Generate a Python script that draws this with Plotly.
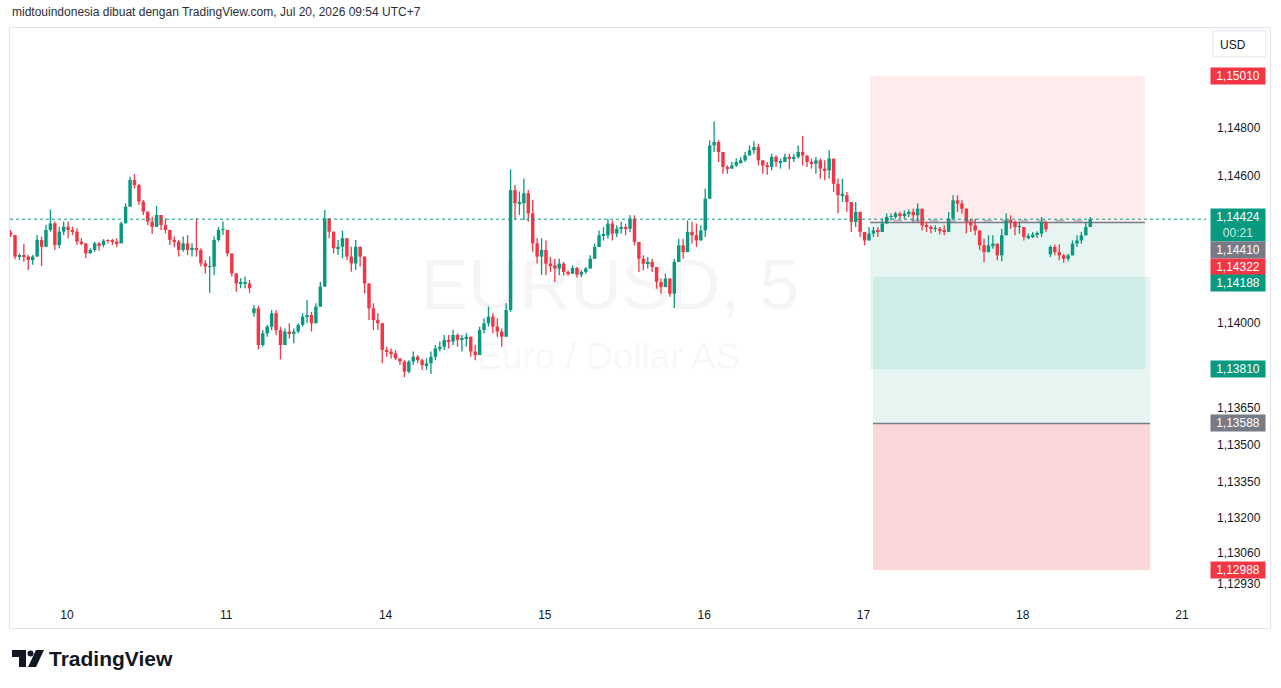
import plotly.graph_objects as go

# ---------------- data ----------------
day_labels = ["10", "11", "14", "15", "16", "17", "18", "21"]
day_ticks_h = [0, 24, 48, 72, 96, 120, 144, 168]   # trading hours since Jul 10 00:00 (UTC+7), weekends removed

bar_step_h = 2 / 3          # each drawn candle = 40 min
first_bar_h = -8.5
first_open = 1.14370
session_opens = {55: 1.14040, 235: 1.14280}   # Monday opens (weekend gaps)

high = [
    1.14380, 1.14339, 1.14284, 1.14322, 1.14277, 1.14277, 1.14359, 1.14353, 1.14400, 1.14464,
    1.14414, 1.14393, 1.14414, 1.14414, 1.14393, 1.14387, 1.14346, 1.14311, 1.14305, 1.14332,
    1.14332, 1.14342, 1.14342, 1.14343, 1.14346, 1.14414, 1.14489, 1.14598, 1.14609, 1.14568,
    1.14503, 1.14448, 1.14434, 1.14479, 1.14441, 1.14427, 1.14373, 1.14353, 1.14339, 1.14353,
    1.14359, 1.14325, 1.14427, 1.14305, 1.14257, 1.14271, 1.14353, 1.14393, 1.14414, 1.14366,
    1.14277, 1.14196, 1.14182, 1.14189, 1.14175, 1.14073, 1.14070, 1.13970, 1.13991, 1.14052,
    1.14052, 1.13984, 1.13977, 1.13998, 1.13977, 1.13998, 1.14039, 1.14093, 1.14045, 1.14080,
    1.14168, 1.14462, 1.14421, 1.14353, 1.14339, 1.14377, 1.14339, 1.14311, 1.14339, 1.14311,
    1.14257, 1.14161, 1.14080, 1.14039, 1.13998, 1.13902, 1.13895, 1.13889, 1.13854, 1.13847,
    1.13847, 1.13882, 1.13868, 1.13854, 1.13854, 1.13882, 1.13909, 1.13923, 1.13950, 1.13950,
    1.13970, 1.13957, 1.13950, 1.13957, 1.13943, 1.13909, 1.13984, 1.14018, 1.14066, 1.14039,
    1.14018, 1.13977, 1.14080, 1.14628, 1.14564, 1.14537, 1.14591, 1.14543, 1.14503, 1.14346,
    1.14346, 1.14337, 1.14269, 1.14262, 1.14262, 1.14249, 1.14215, 1.14235, 1.14228, 1.14215,
    1.14228, 1.14276, 1.14324, 1.14378, 1.14392, 1.14426, 1.14419, 1.14399, 1.14413, 1.14406,
    1.14440, 1.14440, 1.14324, 1.14276, 1.14269, 1.14262, 1.14228, 1.14181, 1.14201, 1.14181,
    1.14262, 1.14344, 1.14344, 1.14419, 1.14413, 1.14406, 1.14399, 1.14549, 1.14747, 1.14824,
    1.14747, 1.14651, 1.14644, 1.14658, 1.14672, 1.14679, 1.14699, 1.14726, 1.14743, 1.14733,
    1.14665, 1.14658, 1.14692, 1.14685, 1.14672, 1.14692, 1.14692, 1.14692, 1.14726, 1.14765,
    1.14685, 1.14672, 1.14679, 1.14672, 1.14665, 1.14706, 1.14658, 1.14590, 1.14590, 1.14535,
    1.14460, 1.14494, 1.14392, 1.14372, 1.14392, 1.14392, 1.14392, 1.14426, 1.14447, 1.14447,
    1.14454, 1.14454, 1.14460, 1.14464, 1.14467, 1.14488, 1.14460, 1.14413, 1.14399, 1.14399,
    1.14392, 1.14399, 1.14454, 1.14522, 1.14522, 1.14501, 1.14454, 1.14426, 1.14426, 1.14365,
    1.14344, 1.14358, 1.14358, 1.14324, 1.14385, 1.14447, 1.14440, 1.14419, 1.14413, 1.14372,
    1.14365, 1.14372, 1.14374, 1.14433, 1.14392, 1.14317, 1.14320, 1.14320, 1.14283, 1.14283,
    1.14337, 1.14358, 1.14372, 1.14413, 1.14433,
]
low = [
    1.14350, 1.14260, 1.14257, 1.14250, 1.14216, 1.14237, 1.14277, 1.14232, 1.14311, 1.14373,
    1.14298, 1.14305, 1.14359, 1.14346, 1.14359, 1.14318, 1.14318, 1.14264, 1.14287, 1.14291,
    1.14295, 1.14309, 1.14325, 1.14318, 1.14309, 1.14325, 1.14421, 1.14496, 1.14550, 1.14482,
    1.14441, 1.14400, 1.14363, 1.14393, 1.14380, 1.14366, 1.14318, 1.14309, 1.14271, 1.14291,
    1.14277, 1.14271, 1.14271, 1.14230, 1.14202, 1.14123, 1.14196, 1.14332, 1.14359, 1.14271,
    1.14189, 1.14127, 1.14141, 1.14141, 1.14123, 1.14025, 1.13891, 1.13902, 1.13943, 1.13970,
    1.13950, 1.13850, 1.13936, 1.13936, 1.13916, 1.13957, 1.13984, 1.13998, 1.13964, 1.14011,
    1.14066, 1.14161, 1.14346, 1.14284, 1.14277, 1.14264, 1.14257, 1.14209, 1.14216, 1.14230,
    1.14120, 1.14011, 1.13970, 1.13970, 1.13834, 1.13861, 1.13854, 1.13847, 1.13827, 1.13777,
    1.13793, 1.13827, 1.13834, 1.13807, 1.13807, 1.13790, 1.13847, 1.13882, 1.13889, 1.13895,
    1.13909, 1.13902, 1.13882, 1.13902, 1.13861, 1.13847, 1.13889, 1.13957, 1.13984, 1.13957,
    1.13943, 1.13902, 1.13957, 1.14045, 1.14421, 1.14441, 1.14421, 1.14414, 1.14291, 1.14243,
    1.14196, 1.14194, 1.14208, 1.14167, 1.14194, 1.14194, 1.14192, 1.14208, 1.14185, 1.14187,
    1.14201, 1.14222, 1.14262, 1.14324, 1.14337, 1.14344, 1.14337, 1.14351, 1.14365, 1.14358,
    1.14372, 1.14317, 1.14208, 1.14215, 1.14222, 1.14208, 1.14139, 1.14119, 1.14146, 1.14106,
    1.14060, 1.14249, 1.14262, 1.14303, 1.14324, 1.14310, 1.14344, 1.14351, 1.14549, 1.14699,
    1.14658, 1.14610, 1.14610, 1.14631, 1.14638, 1.14651, 1.14658, 1.14685, 1.14692, 1.14644,
    1.14610, 1.14606, 1.14624, 1.14638, 1.14631, 1.14658, 1.14628, 1.14658, 1.14672, 1.14644,
    1.14638, 1.14631, 1.14610, 1.14590, 1.14583, 1.14590, 1.14535, 1.14447, 1.14494, 1.14454,
    1.14372, 1.14392, 1.14351, 1.14317, 1.14337, 1.14351, 1.14351, 1.14372, 1.14406, 1.14419,
    1.14426, 1.14426, 1.14426, 1.14433, 1.14413, 1.14413, 1.14378, 1.14372, 1.14365, 1.14372,
    1.14361, 1.14358, 1.14385, 1.14454, 1.14454, 1.14447, 1.14365, 1.14372, 1.14358, 1.14297,
    1.14249, 1.14289, 1.14303, 1.14256, 1.14252, 1.14372, 1.14385, 1.14358, 1.14365, 1.14337,
    1.14342, 1.14347, 1.14347, 1.14351, 1.14372, 1.14269, 1.14276, 1.14256, 1.14246, 1.14252,
    1.14289, 1.14310, 1.14324, 1.14358, 1.14392,
]
close = [
    1.14359, 1.14271, 1.14277, 1.14271, 1.14257, 1.14271, 1.14339, 1.14311, 1.14380, 1.14407,
    1.14318, 1.14373, 1.14393, 1.14380, 1.14373, 1.14332, 1.14325, 1.14284, 1.14298, 1.14325,
    1.14318, 1.14336, 1.14335, 1.14332, 1.14325, 1.14407, 1.14475, 1.14584, 1.14564, 1.14496,
    1.14455, 1.14414, 1.14393, 1.14441, 1.14400, 1.14380, 1.14339, 1.14332, 1.14298, 1.14325,
    1.14298, 1.14305, 1.14298, 1.14243, 1.14230, 1.14230, 1.14339, 1.14380, 1.14380, 1.14284,
    1.14202, 1.14161, 1.14161, 1.14161, 1.14141, 1.14059, 1.13909, 1.13957, 1.13984, 1.14039,
    1.13970, 1.13909, 1.13964, 1.13957, 1.13964, 1.13991, 1.14025, 1.14032, 1.13998, 1.14066,
    1.14148, 1.14427, 1.14373, 1.14305, 1.14311, 1.14346, 1.14271, 1.14243, 1.14311, 1.14271,
    1.14161, 1.14059, 1.14011, 1.13998, 1.13889, 1.13882, 1.13875, 1.13854, 1.13841, 1.13800,
    1.13841, 1.13861, 1.13847, 1.13827, 1.13834, 1.13861, 1.13895, 1.13902, 1.13930, 1.13923,
    1.13950, 1.13930, 1.13936, 1.13943, 1.13882, 1.13868, 1.13970, 1.13998, 1.14025, 1.13984,
    1.13964, 1.13943, 1.14052, 1.14543, 1.14489, 1.14489, 1.14530, 1.14448, 1.14325, 1.14271,
    1.14298, 1.14242, 1.14235, 1.14222, 1.14242, 1.14208, 1.14201, 1.14224, 1.14197, 1.14208,
    1.14222, 1.14262, 1.14310, 1.14358, 1.14358, 1.14406, 1.14365, 1.14385, 1.14392, 1.14385,
    1.14426, 1.14331, 1.14262, 1.14242, 1.14249, 1.14228, 1.14167, 1.14146, 1.14181, 1.14119,
    1.14249, 1.14317, 1.14289, 1.14372, 1.14358, 1.14337, 1.14378, 1.14508, 1.14726, 1.14740,
    1.14699, 1.14638, 1.14631, 1.14644, 1.14658, 1.14665, 1.14685, 1.14706, 1.14719, 1.14665,
    1.14644, 1.14638, 1.14679, 1.14658, 1.14658, 1.14679, 1.14672, 1.14679, 1.14699, 1.14685,
    1.14658, 1.14651, 1.14665, 1.14631, 1.14624, 1.14672, 1.14569, 1.14522, 1.14522, 1.14494,
    1.14413, 1.14454, 1.14372, 1.14337, 1.14365, 1.14378, 1.14372, 1.14406, 1.14433, 1.14433,
    1.14447, 1.14440, 1.14447, 1.14454, 1.14440, 1.14467, 1.14399, 1.14392, 1.14385, 1.14385,
    1.14378, 1.14372, 1.14426, 1.14501, 1.14488, 1.14467, 1.14413, 1.14399, 1.14378, 1.14317,
    1.14289, 1.14317, 1.14324, 1.14276, 1.14358, 1.14419, 1.14413, 1.14392, 1.14392, 1.14351,
    1.14351, 1.14361, 1.14365, 1.14413, 1.14382, 1.14310, 1.14289, 1.14276, 1.14262, 1.14276,
    1.14324, 1.14337, 1.14358, 1.14392, 1.14424,
]

# position tools (time in trading hours, prices)
short_pos = dict(t0=121.0, t1=162.4, entry=1.14410, stop=1.15010, target=1.13810)
long_pos = dict(t0=121.45, t1=163.2, entry=1.13588, stop=1.12988, target=1.14188)
last_price = 1.14424
countdown = "00:21"

axis_ticks = [1.14800, 1.14600, 1.14000, 1.13650, 1.13500, 1.13350, 1.13200, 1.13060, 1.12930]
axis_ticktext = ["1,14800", "1,14600", "1,14000", "1,13650", "1,13500", "1,13350", "1,13200", "1,13060", "1,12930"]

header = "midtouindonesia dibuat dengan TradingView.com, Jul 20, 2026 09:54 UTC+7"

# ---------------- build candles ----------------
n = len(close)
x = [first_bar_h + i * bar_step_h for i in range(n)]
opens = []
for i in range(n):
    if i == 0:
        opens.append(first_open)
    elif i in session_opens:
        opens.append(session_opens[i])
    else:
        opens.append(close[i - 1])
hi = [max(high[i], opens[i], close[i]) for i in range(n)]
lo = [min(low[i], opens[i], close[i]) for i in range(n)]

UP = "#089981"
DN = "#f23645"
GRAY = "#787b86"
TXT = "#131722"

# layout geometry (pixels)
W, H = 1281, 688
PL, PR, PT, PB = 10, 1206, 28, 600
X_RANGE = [-8.588, 171.61]
Y_RANGE = [1.128653, 1.152065]
BODY_W = 0.52        # candle body width in hours
MIN_BODY = 0.00002   # keep doji bodies visible


def fx(px):
    return (px - PL) / (PR - PL)


def fy(py):
    return (PB - py) / (PB - PT)


fig = go.Figure()

# watermark (behind candles)
fig.add_trace(go.Scatter(
    x=[81.8], y=[1.14127], mode="text", text=["EURUSD, 5"],
    textfont=dict(size=71, color="rgba(19,23,34,0.045)", family="Liberation Sans"),
    hoverinfo="skip", showlegend=False,
))
fig.add_trace(go.Scatter(
    x=[81.6], y=[1.13850], mode="text", text=["Euro / Dollar AS"],
    textfont=dict(size=37, color="rgba(19,23,34,0.045)", family="Liberation Sans"),
    hoverinfo="skip", showlegend=False,
))

# candles: wicks + bodies
for is_up, col in ((True, UP), (False, DN)):
    idx = [i for i in range(n) if (close[i] >= opens[i]) == is_up]
    wx, wy = [], []
    for i in idx:
        wx += [x[i], x[i], None]
        wy += [lo[i], hi[i], None]
    fig.add_trace(go.Scatter(x=wx, y=wy, mode="lines", line=dict(color=col, width=1.3),
                             hoverinfo="skip", showlegend=False))
    fig.add_trace(go.Bar(
        x=[x[i] for i in idx],
        y=[max(abs(close[i] - opens[i]), MIN_BODY) for i in idx],
        base=[min(close[i], opens[i]) for i in idx],
        width=BODY_W, marker=dict(color=col, line=dict(width=0)),
        hoverinfo="skip", showlegend=False,
    ))

shapes = []
# short position
sp = short_pos
shapes.append(dict(type="rect", xref="x", yref="y", x0=sp["t0"], x1=sp["t1"], y0=sp["entry"], y1=sp["stop"],
                   fillcolor="rgba(242,54,69,0.10)", line=dict(width=0), layer="below"))
shapes.append(dict(type="rect", xref="x", yref="y", x0=sp["t0"], x1=sp["t1"], y0=sp["target"], y1=sp["entry"],
                   fillcolor="rgba(8,153,129,0.10)", line=dict(width=0), layer="below"))
# long position
lp = long_pos
shapes.append(dict(type="rect", xref="x", yref="y", x0=lp["t0"], x1=lp["t1"], y0=lp["entry"], y1=lp["target"],
                   fillcolor="rgba(8,153,129,0.10)", line=dict(width=0), layer="below"))
shapes.append(dict(type="rect", xref="x", yref="y", x0=lp["t0"], x1=lp["t1"], y0=lp["stop"], y1=lp["entry"],
                   fillcolor="rgba(242,54,69,0.20)", line=dict(width=0), layer="below"))
# entry lines
for p in (sp, lp):
    shapes.append(dict(type="line", xref="x", yref="y", x0=p["t0"], x1=p["t1"], y0=p["entry"], y1=p["entry"],
                       line=dict(color=GRAY, width=1.5), layer="below"))
# projection dashed line of short trade
shapes.append(dict(type="line", xref="x", yref="y", x0=sp["t0"] + 3.5, x1=x[-1], y0=1.14418, y1=1.14418,
                   line=dict(color="rgba(120,123,134,0.45)", width=2, dash="dash"), layer="above"))
# current price dotted line
shapes.append(dict(type="line", xref="paper", yref="y", x0=0, x1=1, y0=last_price, y1=last_price,
                   line=dict(color=UP, width=1, dash="dot"), layer="above"))
# chart frame
shapes.append(dict(type="rect", xref="paper", yref="paper", x0=fx(9.5), x1=fx(1270.5), y0=fy(628.5), y1=fy(27.5),
                   line=dict(color="#e0e3eb", width=1), fillcolor="rgba(0,0,0,0)", layer="below"))
# USD box
shapes.append(dict(type="rect", xref="paper", yref="paper", x0=fx(1213), x1=fx(1266), y0=fy(57), y1=fy(31),
                   line=dict(color="#e0e3eb", width=1), fillcolor="white", layer="above"))
# TradingView logo glyph
shapes.append(dict(type="path", xref="paper", yref="paper",
                   path=f"M {fx(12)},{fy(650)} L {fx(26)},{fy(650)} L {fx(26)},{fy(667)} L {fx(19)},{fy(667)} "
                        f"L {fx(19)},{fy(657)} L {fx(12)},{fy(657)} Z",
                   fillcolor=TXT, line=dict(width=0)))
shapes.append(dict(type="circle", xref="paper", yref="paper", x0=fx(27.5), x1=fx(33.5), y0=fy(656.5), y1=fy(650.5),
                   fillcolor=TXT, line=dict(width=0)))
shapes.append(dict(type="path", xref="paper", yref="paper",
                   path=f"M {fx(36)},{fy(650)} L {fx(44)},{fy(650)} L {fx(36)},{fy(667)} L {fx(28)},{fy(667)} Z",
                   fillcolor=TXT, line=dict(width=0)))

annotations = []
FONT = "Liberation Sans"


def tag(text, price, color, yshift=0, height=None):
    annotations.append(dict(
        xref="paper", yref="y", x=fx(1238), y=price, yshift=yshift, xanchor="center", yanchor="middle",
        text=text, showarrow=False, bgcolor=color, borderpad=1, width=52, height=height, align="center",
        font=dict(family=FONT, size=12, color="white"),
    ))


tag("1,15010", sp["stop"], DN)
tag(f"1,14424<br><span style='color:rgba(255,255,255,0.8)'>{countdown}</span>", last_price, UP, yshift=-6, height=30)
tag("1,14410", sp["entry"], GRAY, yshift=-27)
tag("1,14322", 1.14322, DN, yshift=-22.5)
tag("1,14188", lp["target"], UP, yshift=-6.5)
tag("1,13810", sp["target"], UP)
tag("1,13588", lp["entry"], GRAY)
tag("1,12988", lp["stop"], DN)

annotations.append(dict(xref="paper", yref="paper", x=fx(1233), y=fy(44.5), text="USD", showarrow=False,
                        xanchor="center", yanchor="middle", font=dict(family=FONT, size=12, color=TXT)))
annotations.append(dict(xref="paper", yref="paper", x=fx(10), y=fy(12), text=header, showarrow=False,
                        xanchor="left", yanchor="middle", font=dict(family=FONT, size=12, color="#2a2e39")))
annotations.append(dict(xref="paper", yref="paper", x=fx(47), y=fy(658.5), text="<b>TradingView</b>", showarrow=False,
                        xanchor="left", yanchor="middle", font=dict(family=FONT, size=21, color=TXT)))

fig.update_layout(
    width=W, height=H,
    margin=dict(l=PL, r=W - PR, t=PT, b=H - PB),
    paper_bgcolor="white", plot_bgcolor="white",
    showlegend=False,
    barmode="overlay",
    shapes=shapes, annotations=annotations,
    xaxis=dict(range=X_RANGE, tickvals=day_ticks_h, ticktext=day_labels, showgrid=False, zeroline=False,
               showline=False, ticks="", fixedrange=True,
               tickfont=dict(family=FONT, size=12, color=TXT), ticklabelstandoff=6),
    yaxis=dict(range=Y_RANGE, side="right", tickvals=axis_ticks, ticktext=axis_ticktext, showgrid=False,
               zeroline=False, showline=False, ticks="", fixedrange=True,
               tickfont=dict(family=FONT, size=12, color=TXT), ticklabelstandoff=10),
)

fig.write_html("out.html")
